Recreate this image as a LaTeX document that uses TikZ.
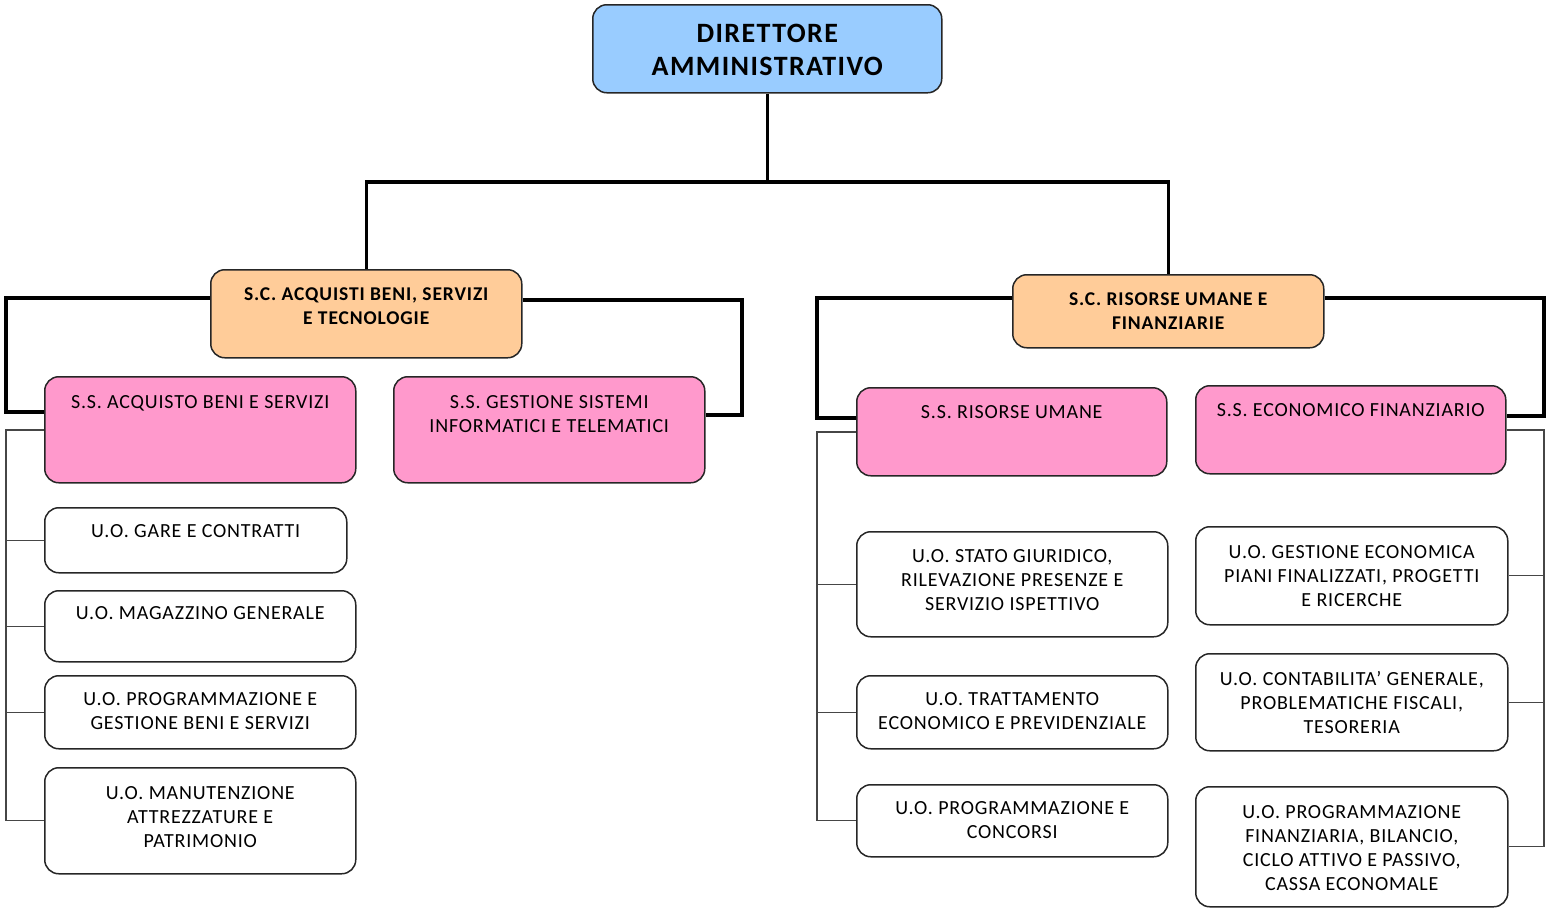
\documentclass[tikz,border=0pt]{standalone}
\usepackage{fontspec}
\setmainfont{Carlito}
\newfontfamily\titlefont{Carlito}[LetterSpace=5]
\newfontfamily\bodyfont{Carlito}[LetterSpace=4]
\newfontfamily\scfont{Carlito}[LetterSpace=4.5]
\usetikzlibrary{backgrounds}
\definecolor{dablue}{RGB}{153,204,255}
\definecolor{scorange}{RGB}{255,204,153}
\definecolor{sspink}{RGB}{255,153,204}
\definecolor{boxline}{RGB}{38,38,38}
\definecolor{conngray}{RGB}{70,70,70}
\newcommand\mytext[4]{\parbox[c][#2][t]{#1}{\centering\rule{0pt}{#3}#4}}
\tikzset{
  boxbase/.style={draw=boxline, line width=1.5pt, rounded corners=14pt, inner sep=0pt, anchor=north west},
  dabox/.style={boxbase, fill=dablue, font=\titlefont\fontsize{28}{33}\selectfont\bfseries},
  scbox/.style={boxbase, fill=scorange, font=\scfont\fontsize{19.5}{24}\selectfont\bfseries},
  ssbox/.style={boxbase, fill=sspink, font=\bodyfont\fontsize{20}{24}\selectfont},
  uobox/.style={boxbase, fill=white, font=\bodyfont\fontsize{20}{24}\selectfont},
  thickconn/.style={line width=3.5pt, black},
  thinconn/.style={line width=1.2pt, conngray}
}
\begin{document}
\begin{tikzpicture}[x=1pt, y=-1pt]
\useasboundingbox (0,0) rectangle (1546,908);
% top
\node[dabox] (da) at (592,4) {\mytext{349pt}{88pt}{38pt}{DIRETTORE\\AMMINISTRATIVO}};
% S.C.
\node[scbox] (sc1) at (210,269) {\mytext{311pt}{88pt}{30.5pt}{S.C. ACQUISTI BENI, SERVIZI\\E TECNOLOGIE}};
\node[scbox] (sc2) at (1012,274) {\mytext{311pt}{73pt}{30.5pt}{S.C. RISORSE UMANE E\\FINANZIARIE}};
% S.S.
\node[ssbox] (ss1) at (44,376) {\mytext{311pt}{106pt}{31.5pt}{S.S. ACQUISTO BENI E SERVIZI}};
\node[ssbox] (ss2) at (393,376) {\mytext{311pt}{106pt}{31.5pt}{S.S. GESTIONE SISTEMI\\INFORMATICI E TELEMATICI}};
\node[ssbox] (ss3) at (856,387) {\mytext{310pt}{88pt}{30.5pt}{S.S. RISORSE UMANE}};
\node[ssbox] (ss4) at (1195,385) {\mytext{310pt}{88pt}{30.5pt}{S.S. ECONOMICO FINANZIARIO}};
% U.O. left
\node[uobox] (uo1) at (44,507) {\mytext{302pt}{65pt}{29.5pt}{U.O. GARE E CONTRATTI}};
\node[uobox] (uo2) at (44,590) {\mytext{311pt}{71pt}{28.5pt}{U.O. MAGAZZINO GENERALE}};
\node[uobox] (uo3) at (44,675) {\mytext{311pt}{73pt}{29.5pt}{U.O. PROGRAMMAZIONE E\\GESTIONE BENI E SERVIZI}};
\node[uobox] (uo4) at (44,767) {\mytext{311pt}{106pt}{31.5pt}{U.O. MANUTENZIONE\\ATTREZZATURE E\\PATRIMONIO}};
% U.O. middle
\node[uobox] (uo5) at (856,531) {\mytext{311pt}{105pt}{30.5pt}{U.O. STATO GIURIDICO,\\RILEVAZIONE PRESENZE E\\SERVIZIO ISPETTIVO}};
\node[uobox] (uo6) at (856,675) {\mytext{311pt}{73pt}{29.5pt}{U.O. TRATTAMENTO\\ECONOMICO E PREVIDENZIALE}};
\node[uobox] (uo7) at (856,784) {\mytext{311pt}{72pt}{29.5pt}{U.O. PROGRAMMAZIONE E\\CONCORSI}};
% U.O. right
\node[uobox] (uo8) at (1195,526) {\mytext{312pt}{98pt}{31.5pt}{U.O. GESTIONE ECONOMICA\\PIANI FINALIZZATI, PROGETTI\\E RICERCHE}};
\node[uobox] (uo9) at (1195,653) {\mytext{312pt}{97pt}{31.5pt}{U.O. CONTABILITA’ GENERALE,\\PROBLEMATICHE FISCALI,\\TESORERIA}};
\node[uobox] (uo10) at (1195,786) {\mytext{312pt}{120pt}{31.5pt}{U.O. PROGRAMMAZIONE\\FINANZIARIA, BILANCIO,\\CICLO ATTIVO E PASSIVO,\\CASSA ECONOMALE}};
\begin{scope}[on background layer]
% director to S.C.
\draw[thickconn] (da.south) -- (da.south |- 0,182) coordinate (j);
\draw[thickconn] (j) -| (sc1.north);
\draw[thickconn] (j) -| (sc2.north);
% S.C. 1 to S.S.
\draw[thickconn] (sc1.west |- 0,298) -| (6,412) -- (ss1.west |- 0,412);
\draw[thickconn] (sc1.east |- 0,300) -| (742,415) -- (ss2.east |- 0,415);
% S.C. 2 to S.S.
\draw[thickconn] (sc2.west |- 0,298) -| (817,418) -- (ss3.west |- 0,418);
\draw[thickconn] (sc2.east |- 0,298) -| (1544,416) -- (ss4.east |- 0,416);
% S.S. 1 to U.O.
\draw[thinconn] (ss1.west |- 0,430) -| (6,0 |- uo4.west) -- (uo4.west);
\draw[thinconn] (uo1.west -| 6,0) -- (uo1.west);
\draw[thinconn] (uo2.west -| 6,0) -- (uo2.west);
\draw[thinconn] (uo3.west -| 6,0) -- (uo3.west);
% S.S. 3 to U.O.
\draw[thinconn] (ss3.west |- 0,432) -| (817,0 |- uo7.west) -- (uo7.west);
\draw[thinconn] (uo5.west -| 817,0) -- (uo5.west);
\draw[thinconn] (uo6.west -| 817,0) -- (uo6.west);
% S.S. 4 to U.O.
\draw[thinconn] (ss4.east |- 0,430) -| (1544,0 |- uo10.east) -- (uo10.east);
\draw[thinconn] (uo8.east -| 1544,0) -- (uo8.east);
\draw[thinconn] (uo9.east -| 1544,0) -- (uo9.east);
\end{scope}
\end{tikzpicture}
\end{document}
